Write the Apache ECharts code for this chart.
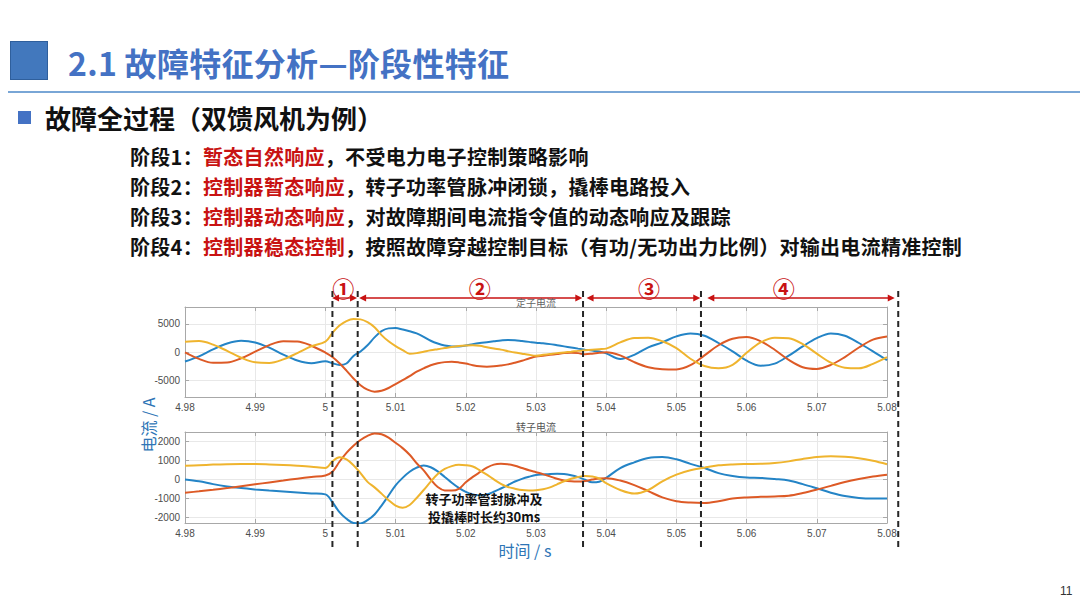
<!DOCTYPE html>
<html><head><meta charset="utf-8">
<script src="https://cdn.jsdelivr.net/npm/echarts@6/dist/echarts.min.js"></script>
<style>
html,body{margin:0;padding:0;width:1080px;height:608px;background:#fff;overflow:hidden;font-family:"Noto Sans CJK SC","Noto Sans",sans-serif;}
#chart{position:absolute;left:0;top:0;width:1080px;height:608px;}
.abs{position:absolute;white-space:nowrap;}
#sq{left:10px;top:41px;width:36px;height:37px;background:#4278bd;border:1px solid #2f5f9c;}
#title{left:68px;top:44px;font-size:32px;line-height:36px;font-weight:bold;color:#4472c4;letter-spacing:0.3px;}
#rule{left:8px;top:91px;width:1072px;height:2px;background:#79a6d6;}
#bullet{left:18px;top:111px;width:13px;height:13px;background:#4472c4;}
#sub{left:45px;top:103px;font-size:26px;line-height:30px;font-weight:bold;color:#111;}
.ln{left:130px;font-size:20px;line-height:26px;font-weight:bold;color:#111;letter-spacing:0.3px;}
.r{color:#c81212;}
#pg{left:1060px;top:583px;font-size:12px;line-height:16px;color:#333;font-family:"Liberation Sans",Arial,sans-serif;}
</style></head><body>
<div id="chart"></div>
<div class="abs" id="sq"></div>
<div class="abs" id="title">2.1 故障特征分析—阶段性特征</div>
<div class="abs" id="rule"></div>
<div class="abs" id="bullet"></div>
<div class="abs" id="sub">故障全过程（双馈风机为例）</div>
<div class="abs ln" style="top:144px">阶段1：<span class="r">暂态自然响应</span>，不受电力电子控制策略影响</div>
<div class="abs ln" style="top:174px">阶段2：<span class="r">控制器暂态响应</span>，转子功率管脉冲闭锁，撬棒电路投入</div>
<div class="abs ln" style="top:204px">阶段3：<span class="r">控制器动态响应</span>，对故障期间电流指令值的动态响应及跟踪</div>
<div class="abs ln" style="top:234px">阶段4：<span class="r">控制器稳态控制</span>，按照故障穿越控制目标（有功/无功出力比例）对输出电流精准控制</div>
<div class="abs" id="pg">11</div>
<script>
// ---- data ----
const T = [4.980,4.982,4.984,4.986,4.988,4.990,4.992,4.994,4.996,4.998,5.000,
5.001,5.002,5.003,5.004,5.005,5.006,5.007,5.008,5.009,5.010,
5.011,5.012,5.013,5.014,5.015,5.016,5.017,5.018,5.019,5.020,
5.021,5.022,5.023,5.024,5.025,5.026,5.027,5.028,5.029,5.030,
5.031,5.032,5.033,5.034,5.035,5.036,5.037,5.038,5.039,5.040,
5.042,5.044,5.046,5.048,5.050,5.052,5.054,5.056,5.058,5.060,
5.062,5.064,5.066,5.068,5.070,5.072,5.074,5.076,5.078,5.080];

const statorBlue = [-1700,-770,470,1520,1990,1700,770,-470,-1520,-1990,-1650,
-2000,-2300,-2050,-700,100,1200,2600,3700,4200,4250,4000,3700,3300,2700,2000,1500,1150,1000,1000,1150,1400,1600,1750,1900,2050,2150,2100,1950,1800,1650,
1550,1400,1200,1000,800,600,420,250,80,-250,
-1250,-500,830,1720,2780,3300,2900,1600,120,-1540,-2430,-2070,-650,1000,2480,3310,2900,1600,120,-1450];

const statorOrange = [-60,-1230,-1920,-1880,-1120,60,1230,1920,1880,1120,-100,
-900,-2000,-3300,-4700,-5900,-6700,-7050,-6900,-6400,-5700,-5000,-4300,-3500,-2900,-2350,-2000,-1800,-1750,-1850,-2050,-2350,-2550,-2600,-2550,-2400,-2200,-1900,-1550,-1150,-800,
-650,-500,-350,-200,-150,-200,-400,-300,-150,-50,
-600,-1800,-2700,-3050,-3100,-2350,-600,1200,2350,2650,1900,400,-1400,-2700,-3000,-2300,-900,800,2200,2750];

const statorYellow = [1840,1950,1320,190,-1020,-1840,-1950,-1320,-190,1020,1840,
3400,4700,5500,5850,5800,5300,4400,3000,1900,1050,350,-300,-200,50,300,500,700,900,1050,1150,1200,1100,850,620,420,150,-100,-300,-500,-650,
-500,-350,-200,-80,50,200,300,400,500,600,
1700,2500,2550,1900,700,-1200,-2500,-2900,-2300,-150,1700,2550,2450,1400,-300,-1900,-2800,-2900,-2100,-900];

const rotorBlue = [0,-100,-250,-370,-460,-530,-590,-640,-690,-740,-790,
-1200,-1730,-2080,-2300,-2320,-2150,-1850,-1380,-850,-310,80,400,620,730,640,420,130,-180,-450,-660,-790,-840,-790,-650,-480,-300,-110,30,140,230,
260,290,300,280,220,120,-20,-150,-120,80,
600,900,1130,1180,1060,820,600,330,180,100,80,20,-60,-250,-470,-700,-880,-980,-1010,-1010];

const rotorOrange = [-700,-630,-550,-460,-360,-260,-160,-60,40,130,210,
400,930,1400,1780,2080,2300,2420,2380,2200,1930,1650,1300,850,480,0,-400,-580,-590,-500,-150,130,380,620,780,820,800,720,600,480,380,
280,160,30,-60,-100,-110,-80,-10,50,60,
-60,-300,-620,-950,-1150,-1220,-1240,-1150,-1010,-950,-920,-900,-860,-720,-540,-340,-140,20,150,250];

const rotorYellow = [720,750,780,800,810,810,790,760,720,670,600,
950,1170,1050,750,330,-130,-420,-750,-1100,-1380,-1500,-1350,-980,-560,-120,280,550,700,770,750,680,480,250,0,-230,-400,-490,-560,-580,-570,
-520,-420,-260,-100,30,130,180,150,50,-200,
-560,-750,-560,-100,250,480,620,740,790,810,820,860,950,1080,1180,1220,1200,1120,980,800];

const xTicks = [4.98, 5.08, 0.01];             // min, max, step
const statorTicks = [-5000, 0, 5000];
const rotorTicks = [-2000, -1000, 0, 1000, 2000];
const statorRange = [-8000, 8000];
const rotorRange = [-2300, 2500];
const phaseLines = [5.0010, 5.0046, 5.0367, 5.0535, 5.0816];
const phaseSpans = [[5.00095, 5.00451], [5.0048, 5.0366], [5.0372, 5.0534], [5.0544, 5.0811]];
const phaseLabels = ['①', '②', '③', '④'];
const phaseLabelT = [5.00256, 5.0220, 5.0461, 5.0653];
const noteLines = ['转子功率管封脉冲及', '投撬棒时长约30ms'];

// ---- chart ----
const C_BLUE = '#2484c6', C_ORANGE = '#dd5a26', C_YELLOW = '#efb42e';
const axisColor = '#a8a8a8';
const chart = echarts.init(document.getElementById('chart'), null, {renderer: 'svg', width: 1080, height: 608});

function xAxes(gi) {
  return [{
    gridIndex: gi, type: 'value', min: xTicks[0], max: xTicks[1], interval: xTicks[2], position: 'bottom',
    axisLine: {show: true, onZero: false, lineStyle: {color: axisColor, width: 1}},
    axisTick: {show: true, inside: true, length: 4, lineStyle: {color: axisColor}},
    axisLabel: {show: true, color: '#4d4d4d', fontSize: 10, margin: 5, fontFamily: 'Liberation Sans, Arial, sans-serif',
      formatter: v => String(+v.toFixed(3))},
    splitLine: {show: true, lineStyle: {color: '#e8e8e8', width: 1}}
  }, {
    gridIndex: gi, type: 'value', min: xTicks[0], max: xTicks[1], interval: xTicks[2], position: 'top',
    axisLine: {show: true, onZero: false, lineStyle: {color: axisColor, width: 1}},
    axisTick: {show: true, inside: true, length: 4, lineStyle: {color: axisColor}},
    axisLabel: {show: false}, splitLine: {show: false}
  }];
}
function yAxes(gi, range, ticks) {
  return [{
    gridIndex: gi, type: 'value', min: range[0], max: range[1], position: 'left',
    axisLine: {show: true, onZero: false, lineStyle: {color: axisColor, width: 1}},
    axisTick: {show: true, inside: true, length: 4, customValues: ticks, lineStyle: {color: axisColor}},
    axisLabel: {show: true, customValues: ticks, color: '#4d4d4d', fontSize: 10, margin: 5,
      fontFamily: 'Liberation Sans, Arial, sans-serif', formatter: v => String(v)},
    splitLine: {show: true, lineStyle: {color: '#e8e8e8', width: 1}}
  }, {
    gridIndex: gi, type: 'value', min: range[0], max: range[1], position: 'right',
    axisLine: {show: true, onZero: false, lineStyle: {color: axisColor, width: 1}},
    axisTick: {show: true, inside: true, length: 4, customValues: ticks, lineStyle: {color: axisColor}},
    axisLabel: {show: false}, splitLine: {show: false}
  }];
}
function line(vals, color, xi, yi) {
  return {type: 'line', xAxisIndex: xi, yAxisIndex: yi, data: T.map((t, i) => [t, vals[i]]),
    showSymbol: false, symbol: 'none', smooth: 0.35, lineStyle: {color: color, width: 2}, itemStyle: {color: color},
    silent: true, animation: false};
}

chart.setOption({
  animation: false,
  grid: [
    {left: 185, top: 307, width: 702, height: 90},
    {left: 185, top: 432, width: 702, height: 91}
  ],
  xAxis: xAxes(0).concat(xAxes(1)),
  yAxis: yAxes(0, statorRange, statorTicks).concat(yAxes(1, rotorRange, rotorTicks)),
  series: [
    line(statorBlue, C_BLUE, 0, 0), line(statorOrange, C_ORANGE, 0, 0), line(statorYellow, C_YELLOW, 0, 0),
    line(rotorBlue, C_BLUE, 2, 2), line(rotorOrange, C_ORANGE, 2, 2), line(rotorYellow, C_YELLOW, 2, 2)
  ]
});

const px = t => chart.convertToPixel({xAxisIndex: 0}, t);
const pyB = v => chart.convertToPixel({yAxisIndex: 2}, v);
const g = [];
function txt(text, x, y, font, fill, extra) {
  const st = {text: text, font: font, fill: fill, align: 'center', verticalAlign: 'middle',
      textAlign: 'center', textVerticalAlign: 'middle'};
  return Object.assign({type: 'text', x: x, y: y, z: 100, style: st}, extra || {});
}
// plot titles
g.push(txt('定子电流', px(5.03), 302, '10px "Noto Sans CJK SC"', '#666'));
g.push(txt('转子电流', px(5.03), 426, '10px "Noto Sans CJK SC"', '#555'));
// axis names
g.push(txt('电流 / A', 0, 0, '16px "Noto Sans CJK SC"', '#2e75b6', {x: 148, y: 425, rotation: Math.PI / 2}));
g.push(txt('时间 / s', 525, 550, '16px "Noto Sans CJK SC"', '#2e75b6'));
// dashed phase lines
phaseLines.forEach(t => {
  const x = px(t);
  g.push({type: 'line', z: 90, shape: {x1: x, y1: 291, x2: x, y2: 549},
    style: {stroke: '#262626', lineWidth: 2, lineDash: [6, 4]}});
});
// double arrows
const AY = 298, AR = '#c81212';
phaseSpans.forEach((s, i) => {
  const x1 = px(s[0]), x2 = px(s[1]);
  g.push({type: 'line', z: 95, shape: {x1: x1 + 3, y1: AY, x2: x2 - 3, y2: AY}, style: {stroke: AR, lineWidth: 1.3}});
  g.push({type: 'polygon', z: 95, shape: {points: [[x1, AY], [x1 + 7, AY - 3.5], [x1 + 7, AY + 3.5]]}, style: {fill: AR}});
  g.push({type: 'polygon', z: 95, shape: {points: [[x2, AY], [x2 - 7, AY - 3.5], [x2 - 7, AY + 3.5]]}, style: {fill: AR}});
  g.push(txt(phaseLabels[i], px(phaseLabelT[i]), 287, 'bold 22px "Noto Sans CJK SC"', AR));
});
// note (two lines)
g.push(txt(noteLines[0], px(5.0226), pyB(-990), 'bold 13px "Noto Sans CJK SC"', '#111'));
g.push(txt(noteLines[1], px(5.0226), pyB(-1940), 'bold 13px "Noto Sans CJK SC"', '#111'));
chart.setOption({graphic: g});
</script>
</body></html>
